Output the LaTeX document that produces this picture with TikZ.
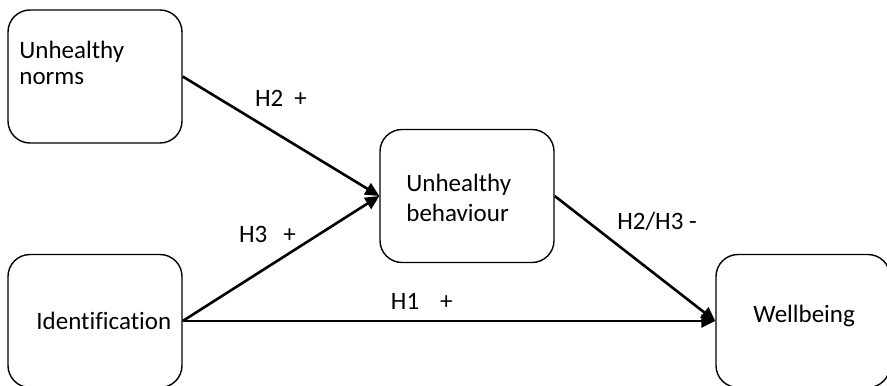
\documentclass[tikz,border=0pt]{standalone}
\usepackage{fontspec}
\setmainfont{Carlito}[Ligatures=NoCommon]
\usetikzlibrary{arrows.meta}

\tikzset{
  box/.style={rectangle, rounded corners=11pt, draw=black, line width=0.7pt, minimum width=87pt, minimum height=66.5pt},
  txt/.style={inner sep=0pt, align=left},
  link/.style={-{Triangle[length=7pt, width=6.5pt]}, line width=1.3pt},
  hyp/.style={inner sep=0pt}
}

\begin{document}
\begin{tikzpicture}[x=0.5pt, y=-0.5pt, font=\fontsize{12.5}{13}\selectfont]
\useasboundingbox (0,0) rectangle (887,385);

\node[box] (norms) at (95,76.5) {};
\node[box] (behav) at (467,196) {};
\node[box] (ident) at (95,321) {};
\node[box] (well) at (803,321) {};

\node[txt, anchor=north west] (normstxt) at (19,41) {Unhealthy\\norms};
\node[txt, anchor=north west, font=\fontsize{12.5}{14.7}\selectfont] (behavtxt) at (406,174) {Unhealthy\\behaviour};
\node[txt, anchor=base west] (identtxt) at (36,329) {Identification};
\node[txt, anchor=base west] (welltxt) at (753,322) {Wellbeing};

\draw[link] (norms.east) -- node[hyp, yshift=19pt] {H2\hspace{5.5pt}+} (behav.west);
\draw[link] (ident.east) -- node[hyp, xshift=-6.75pt, yshift=11.9pt] {H3\hspace{8pt}+} (behav.west);
\draw[link] (ident.east) -- node[hyp, xshift=-13.6pt, yshift=10pt] {H1\hspace{10.5pt}+} (well.west);
\draw[link] (behav.east) -- node[hyp, xshift=11pt, yshift=18.75pt] {H2/H3 -} (well.west);
\end{tikzpicture}
\end{document}
